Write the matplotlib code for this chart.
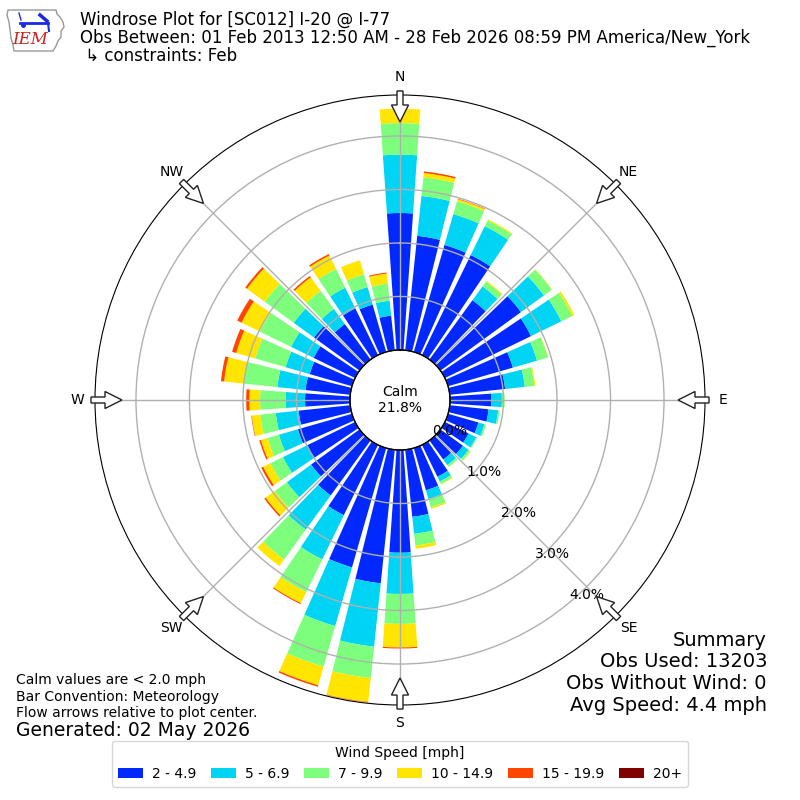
import numpy as np
import matplotlib
matplotlib.use("Agg")
import matplotlib.pyplot as plt
from matplotlib.patches import FancyArrow, Polygon

# ---------------- data ----------------
directions = list(range(0, 360, 10))
speed_labels = ["2 - 4.9", "5 - 6.9", "7 - 9.9", "10 - 14.9", "15 - 19.9", "20+"]
colors = ["#0028ff", "#00d4f4", "#7dff7d", "#ffe500", "#ff4500", "#800000"]

# frequency [%] per direction for each speed bin
bin_2_5 = [2.56, 2.15, 2.08, 2.08, 1.37, 1.86, 1.79, 1.26, 1.04, 0.77, 0.73, 0.59,
           0.49, 0.52, 0.44, 0.66, 0.82, 1.26, 1.92, 2.51, 2.32, 1.46, 1.27, 1.12,
           1.01, 1.05, 0.97, 0.84, 0.84, 0.82, 0.86, 1.05, 0.82, 0.97, 0.92, 0.65]
bin_5_7 = [1.09, 0.75, 0.60, 0.60, 0.32, 0.53, 0.63, 0.47, 0.37, 0.20, 0.18, 0.12,
           0.16, 0.13, 0.13, 0.10, 0.17, 0.32, 0.77, 1.19, 1.14, 0.92, 0.79, 0.56,
           0.49, 0.37, 0.43, 0.36, 0.53, 0.47, 0.47, 0.47, 0.35, 0.43, 0.34, 0.28]
bin_7_10 = [0.59, 0.35, 0.25, 0.12, 0.11, 0.18, 0.23, 0.21, 0.18, 0.05, 0.03, 0.03,
            0.02, 0.04, 0.04, 0.05, 0.16, 0.22, 0.56, 0.59, 0.79, 0.68, 0.69, 0.28,
            0.26, 0.22, 0.29, 0.48, 0.63, 0.59, 0.65, 0.67, 0.42, 0.39, 0.25, 0.32]
bin_10_15 = [0.27, 0.08, 0.04, 0.02, 0.02, 0.01, 0.04, 0.01, 0.02, 0.00, 0.00, 0.00,
             0.00, 0.01, 0.00, 0.01, 0.03, 0.06, 0.44, 0.45, 0.36, 0.23, 0.15, 0.21,
             0.15, 0.13, 0.16, 0.20, 0.37, 0.37, 0.38, 0.41, 0.31, 0.28, 0.27, 0.19]
bin_15_20 = [0.00, 0.03, 0.01, 0.00, 0.00, 0.00, 0.00, 0.00, 0.00, 0.00, 0.00, 0.00,
             0.00, 0.00, 0.00, 0.00, 0.00, 0.00, 0.02, 0.01, 0.03, 0.02, 0.00, 0.03,
             0.04, 0.03, 0.01, 0.06, 0.06, 0.08, 0.09, 0.04, 0.03, 0.03, 0.00, 0.02]
bin_20p = [0.0] * 36
speed_bins = [bin_2_5, bin_5_7, bin_7_10, bin_10_15, bin_15_20, bin_20p]

rticks = [0, 1, 2, 3, 4]
rtick_labels = ["0.0%", "1.0%", "2.0%", "3.0%", "4.0%"]
compass = ["N", "NE", "E", "SE", "S", "SW", "W", "NW"]
calm_pct = "21.8%"

title_lines = ["Windrose Plot for [SC012] I-20 @ I-77",
               "Obs Between: 01 Feb 2013 12:50 AM - 28 Feb 2026 08:59 PM America/New_York",
               " \u21b3 constraints: Feb"]
notes = ["Calm values are < 2.0 mph", "Bar Convention: Meteorology",
         "Flow arrows relative to plot center."]
generated = "Generated: 02 May 2026"
summary = ["Summary", "Obs Used: 13203", "Obs Without Wind: 0", "Avg Speed: 4.4 mph"]

# ---------------- figure ----------------
fig = plt.figure(figsize=(8, 8), dpi=100)
ax = fig.add_axes([95 / 800, 95 / 800, 610 / 800, 610 / 800], projection="polar")
ax.set_theta_zero_location("N")
ax.set_theta_direction(-1)
ax.set_rorigin(-0.935)
ax.set_ylim(0, 4.766)

theta = np.deg2rad(directions)
width = np.deg2rad(8)
bottom = np.zeros(len(directions))
handles = []
for vals, col, lab in zip(speed_bins, colors, speed_labels):
    v = np.array(vals)
    b = ax.bar(theta, v, width=width, bottom=bottom, color=col, label=lab,
               linewidth=0, zorder=1)
    handles.append(b)
    bottom = bottom + v

ax.set_xticks(np.deg2rad(np.arange(0, 360, 45)))
ax.set_xticklabels(compass, fontsize=10)
ax.tick_params(axis="x", pad=2.5)
ax.set_yticks(rticks)
ax.set_yticklabels(rtick_labels, fontsize=10)
ax.set_rlabel_position(140)
ax.grid(True, color="#b0b0b0", linewidth=1)

# calm circle
tt = np.linspace(0, 2 * np.pi, 361)
ax.plot(tt, np.zeros_like(tt), color="black", lw=1, clip_on=False, zorder=3)
ax.text(0, -0.935, "Calm\n" + calm_pct, ha="center", va="center", fontsize=10)

# flow arrows (decoration) at the rim pointing to center
for ang in range(0, 360, 45):
    a = np.deg2rad(ang)
    r_tail, r_tip = 309 / 800, 278 / 800
    x0 = 0.5 + r_tail * np.sin(a)
    y0 = 0.5 + r_tail * np.cos(a)
    dx = (r_tip - r_tail) * np.sin(a)
    dy = (r_tip - r_tail) * np.cos(a)
    arr = FancyArrow(x0, y0, dx, dy, width=6 / 800, head_width=17 / 800,
                     head_length=17 / 800, length_includes_head=True,
                     transform=fig.transFigure, facecolor="white",
                     edgecolor="#222222", linewidth=1, zorder=10)
    fig.patches.append(arr)

# titles
for i, line in enumerate(title_lines):
    fig.text(80 / 800, 1 - (20 + 18 * i) / 800, line, fontsize=12,
             ha="left", va="center")

# logo
lax = fig.add_axes([0, 1 - 58 / 800, 75 / 800, 58 / 800])
lax.set_xlim(0, 75)
lax.set_ylim(58, 0)
lax.axis("off")
iowa = [(8, 10), (56, 10), (57, 14), (60, 17), (63, 22), (64, 27), (61, 31),
        (61, 37), (58, 41), (56, 46), (53, 51), (14, 51), (13, 45), (11, 38),
        (10, 30), (9, 22), (7, 15)]
lax.add_patch(Polygon(iowa, closed=True, fill=False, edgecolor="#999999", lw=1))
lax.plot([20, 48], [23, 23], color="#1a2adf", lw=2)
lax.plot([40, 47], [15, 21], color="#1a2adf", lw=2.5)
lax.plot([19, 21], [13, 20], color="#1a2adf", lw=1)
lax.plot([48, 49], [23, 31], color="#1a2adf", lw=1.5)
lax.plot([23], [25], "o", color="#1a2adf", ms=2.5)
lax.text(30, 40, "IEM", color="#d02020", fontsize=12, family="DejaVu Serif",
         style="italic", ha="center", va="center")

# notes
for i, n in enumerate(notes):
    fig.text(16 / 800, 1 - (680 + 16.5 * i) / 800, n, fontsize=10, ha="left", va="center")
fig.text(16 / 800, 1 - 730 / 800, generated, fontsize=13.5, ha="left", va="center")
for i, s in enumerate(summary):
    fig.text(767 / 800, 1 - (640 + 21.8 * i) / 800, s, fontsize=14, ha="right", va="center")

leg = fig.legend(handles=handles, labels=speed_labels, loc="lower center",
                 bbox_to_anchor=(0.5, 0.008), ncol=6, fontsize=10,
                 title="Wind Speed [mph]", title_fontsize=10, frameon=True,
                 columnspacing=1.05, handletextpad=0.65, handlelength=1.8)

fig.savefig("out.png", dpi=100)
